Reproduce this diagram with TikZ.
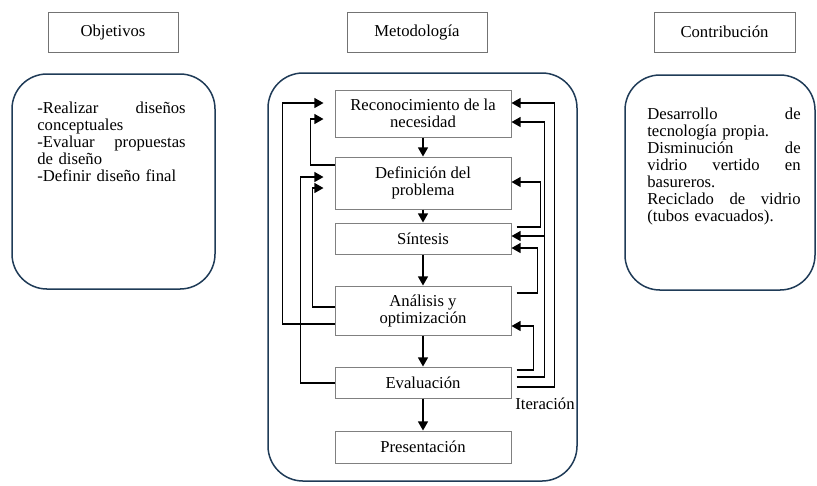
\documentclass[tikz,border=0pt]{standalone}
\usepackage{fontspec}
\setmainfont{Liberation Serif}
\usetikzlibrary{calc,arrows.meta}
\definecolor{frameblue}{HTML}{1F3B57}

\begin{document}
\begin{tikzpicture}[x=0.6pt, y=-0.6pt,
  font=\fontsize{10}{10.2}\selectfont,
  title/.style={draw=black!55, line width=0.6pt, minimum width=#1, minimum height=24pt, inner sep=0pt},
  stage/.style={draw=black!50, line width=0.6pt, minimum width=105.6pt, align=center, inner sep=0pt},
  frame/.style={draw=frameblue, line width=0.9pt, rounded corners=21pt},
  note/.style={anchor=north west, align=left, inner sep=0pt},
  flow/.style={draw=black, line width=0.9pt, -{Triangle[width=6pt,length=5.5pt]}},
  back/.style={flow, shorten >=6.6pt},
  fwd/.style={flow, shorten <=3pt}]

  \useasboundingbox (0,0) rectangle (817,485);

  % column titles
  \node[title=78pt]   (objt) at (113,32)   {Objetivos};
  \node[title=84pt]   (mett) at (417,32)   {Metodología};
  \node[title=84.6pt] (cont) at (724.5,32) {Contribución};

  % rounded frames
  \draw[frame] (12,74) rectangle (215,289);
  \draw[frame] (268,73) rectangle (577,481);
  \draw[frame] (625,75) rectangle (815,290);

  % objectives / contribution texts
  \node[note, text width=89pt] (objtxt) at (37,102)
    {-Realizar \hfill diseños\\ conceptuales\\ -Evaluar \hfill propuestas\\ de diseño\\ -Definir diseño final};
  \node[note, text width=92pt] (contxt) at (647,108)
    {Desarrollo \hfill de\\ tecnología propia.\\ Disminución \hfill de\\ vidrio \hfill vertido \hfill en\\ basureros.\\ Reciclado \hfill de \hfill vidrio\\ (tubos evacuados).};

  % design stages
  \node[stage, minimum height=28.2pt] (rec) at (423,113.5) {Reconocimiento de la\\ necesidad};
  \node[stage, minimum height=31.2pt] (def) at (423,183)   {Definición del\\ problema};
  \node[stage, minimum height=18.6pt] (sin) at (423,238.5) {Síntesis};
  \node[stage, minimum height=29.4pt] (ana) at (423,310.5) {Análisis y\\ optimización};
  \node[stage, minimum height=18.6pt] (eva) at (423,382.5) {Evaluación};
  \node[stage, minimum height=19.2pt] (pre) at (423,447)   {Presentación};

  % main sequence
  \foreach \a/\b in {rec/def, def/sin, sin/ana, ana/eva, eva/pre}
    \draw[flow] (\a) -- (\b);

  % left feedback loops
  \draw[back] ($(ana.west)+(0,13.5)$) -- ++(-52,0) |- ($(rec.west)+(0,-10.5)$);
  \draw[back] ($(def.west)+(0,-18)$)  -- ++(-24,0) |- ($(rec.west)+(0,5.5)$);
  \draw[back] ($(eva.west)+(0,0.5)$)  -- ++(-34,0) |- ($(def.west)+(0,-6)$);
  \draw[back] ($(ana.west)+(0,-3.5)$) -- ++(-22,0) |- ($(def.west)+(0,5)$);

  % right feedback loops
  \draw[fwd] ($(eva.east)+(0,4.5)$)   -- ++(43,0) |- ($(rec.east)+(0,-10.5)$);
  \draw[fwd] ($(eva.east)+(0,-5.5)$)  -- ++(33,0) coordinate (tap) |- ($(rec.east)+(0,8.5)$);
  \coordinate (sinin) at ($(sin.east)+(0,-2.5)$);
  \draw[flow] (tap |- sinin) -- (sinin);
  \draw[fwd] ($(sin.east)+(0,-11.5)$) -- ++(29,0) |- ($(def.east)+(0,-1)$);
  \draw[fwd] ($(ana.east)+(0,-17.5)$) -- ++(26,0) |- ($(sin.east)+(0,9.5)$);
  \draw[fwd] ($(eva.east)+(0,-12.5)$) -- ++(22,0) |- ($(ana.east)+(0,15.5)$);

  \node (iter) at (545,404) {Iteración};
\end{tikzpicture}
\end{document}
